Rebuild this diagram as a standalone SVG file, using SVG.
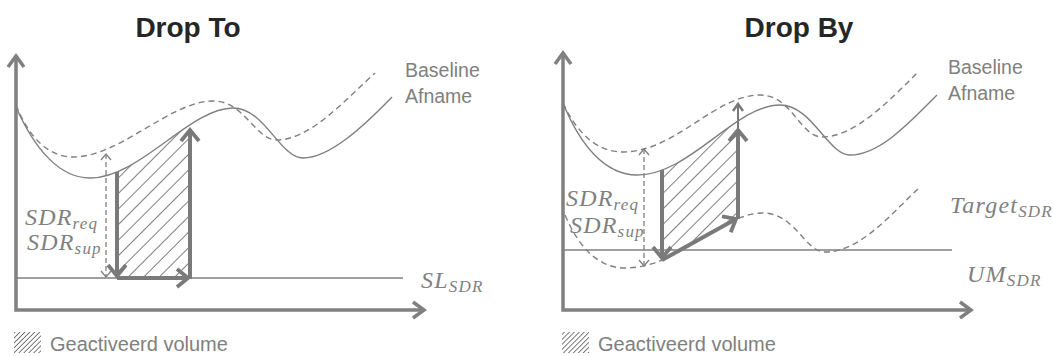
<svg xmlns="http://www.w3.org/2000/svg" width="1053" height="356" viewBox="0 0 1053 356">
<style>
.title{font-family:"Liberation Sans",Arial,sans-serif;font-weight:bold;font-size:28px;fill:#262626}
.lbl{font-family:"Liberation Sans",Arial,sans-serif;font-size:19.5px;fill:#808080}
.m{font-family:"Liberation Serif","Times New Roman",serif;font-style:italic;font-size:24px;fill:#808080;letter-spacing:1.2px}
.sub{font-size:17px}
.axis{fill:none;stroke:#808080;stroke-width:3.5;marker-start:url(#ax);marker-end:url(#ax)}
.curve{fill:none;stroke:#7f7f7f;stroke-width:1.4}
.dash{fill:none;stroke:#7f7f7f;stroke-width:1.4;stroke-dasharray:6 4}
.ref{fill:none;stroke:#7f7f7f;stroke-width:1.4}
.thick{fill:none;stroke:#7a7a7a;stroke-width:4;marker-end:url(#ah)}
.thin{fill:none;stroke:#7a7a7a;stroke-width:2;marker-end:url(#ahs)}
.dbl{fill:none;stroke:#808080;stroke-width:1.3;stroke-dasharray:5 3;marker-start:url(#ad);marker-end:url(#ad)}
</style>
<defs>
<marker id="ax" markerUnits="userSpaceOnUse" viewBox="-15 -15 30 30" markerWidth="30" markerHeight="30" refX="0" refY="0" orient="auto-start-reverse">
<path d="M-11,-8 L0,0 L-11,8" fill="none" stroke="#808080" stroke-width="3.5"/>
</marker>
<marker id="ah" markerUnits="userSpaceOnUse" viewBox="-15 -15 30 30" markerWidth="30" markerHeight="30" refX="0" refY="0" orient="auto">
<path d="M-11,-9 L0,0 L-11,9" fill="none" stroke="#7a7a7a" stroke-width="3.8"/>
</marker>
<marker id="ahs" markerUnits="userSpaceOnUse" viewBox="-15 -15 30 30" markerWidth="30" markerHeight="30" refX="0" refY="0" orient="auto">
<path d="M-7,-5 L0,0 L-7,5" fill="none" stroke="#7a7a7a" stroke-width="2.5"/>
</marker>
<marker id="ad" markerUnits="userSpaceOnUse" viewBox="-10 -10 20 20" markerWidth="20" markerHeight="20" refX="0" refY="0" orient="auto-start-reverse">
<path d="M-6,-5 L0,0 L-6,5" fill="none" stroke="#808080" stroke-width="1.3"/>
</marker>
<pattern id="hatch" width="11" height="11" patternUnits="userSpaceOnUse" patternTransform="rotate(45)">
<line x1="0" y1="0" x2="0" y2="11" stroke="#555" stroke-width="1.5"/>
</pattern>
<pattern id="hatchS" width="3.5" height="3.5" patternUnits="userSpaceOnUse" patternTransform="rotate(45)">
<line x1="0" y1="0" x2="0" y2="3.5" stroke="#666" stroke-width="1.7"/>
</pattern>
<clipPath id="underL">
<path d="M16,107 C35,150 60,178 90,178 C140,178 190,108 233,108 C265,108 280,158 303,158 C330,158 365,125 392,97 L392,400 L16,400 Z"/>
</clipPath>
<clipPath id="underR">
<path d="M563,103 C580,145 605,175 637,175 C690,175 735,105 780,105 C812,105 828,155 850,155 C880,155 910,122 937,95 L937,400 L563,400 Z"/>
</clipPath>
</defs>

<g id="panel-drop-to">
<text class="title" x="188" y="37" text-anchor="middle">Drop To</text>
<rect x="117" y="90" width="73" height="188" fill="url(#hatch)" clip-path="url(#underL)"/>
<path class="curve" d="M16,107 C35,150 60,178 90,178 C140,178 190,108 233,108 C265,108 280,158 303,158 C330,158 365,125 392,97"/>
<path class="dash" d="M16,105 C30,140 50,157 73,157 C120,157 170,101 213,101 C245,101 255,140 277,140 C310,140 345,100 375,73"/>
<line class="ref" x1="16" y1="278" x2="403" y2="278"/>
<path class="axis" d="M16,56 L16,310 L424,310"/>
<text class="lbl" x="405" y="77">Baseline</text>
<text class="lbl" x="405" y="103">Afname</text>
<text class="m" x="421" y="288">SL<tspan class="sub" dy="4">SDR</tspan></text>
<text class="m" x="25" y="225">SDR<tspan class="sub" dy="4">req</tspan></text>
<text class="m" x="27" y="250">SDR<tspan class="sub" dy="4">sup</tspan></text>
<g id="legend-left">
<rect x="14" y="332" width="27" height="21" fill="url(#hatchS)"/>
<text class="lbl" x="50" y="351" style="font-size:20px">Geactiveerd volume</text>
</g>
</g>

<g id="panel-drop-by">
<text class="title" x="799" y="37" text-anchor="middle">Drop By</text>
<path d="M662,260 L738,218 L738,90 L662,90 Z" fill="url(#hatch)" clip-path="url(#underR)"/>
<path class="curve" d="M563,103 C580,145 605,175 637,175 C690,175 735,105 780,105 C812,105 828,155 850,155 C880,155 910,122 937,95"/>
<path class="dash" d="M563,103 C578,135 598,152 623,152 C675,152 715,95 760,95 C792,95 800,137 822,137 C855,137 890,100 918,72"/>
<path class="dash" d="M565,215 C580,250 600,268 625,268 C680,268 720,213 763,213 C795,213 805,252 825,252 C860,252 890,215 920,187"/>
<line class="ref" x1="563" y1="250" x2="952" y2="250"/>
<path class="axis" d="M563,53 L563,310 L971,310"/>
<text class="lbl" x="948" y="74">Baseline</text>
<text class="lbl" x="948" y="100">Afname</text>
<text class="m" x="950" y="213">Target<tspan class="sub" dy="4">SDR</tspan></text>
<text class="m" x="967" y="282">UM<tspan class="sub" dy="4">SDR</tspan></text>
<text class="m" x="566" y="206">SDR<tspan class="sub" dy="4">req</tspan></text>
<text class="m" x="570" y="233">SDR<tspan class="sub" dy="4">sup</tspan></text>
<g id="legend-right">
<rect x="562" y="332" width="27" height="21" fill="url(#hatchS)"/>
<text class="lbl" x="598" y="351" style="font-size:20px">Geactiveerd volume</text>
</g>
</g>

<g id="connectors">
<line class="dbl" x1="106" y1="154" x2="106" y2="277"/>
<line class="thick" x1="117" y1="172" x2="117" y2="276"/>
<line class="thick" x1="117" y1="278" x2="188" y2="278"/>
<line class="thick" x1="190" y1="279" x2="190" y2="130"/>
<line class="dbl" x1="644" y1="149" x2="644" y2="266"/>
<line class="thin" x1="738" y1="130" x2="738" y2="104"/>
<line class="thick" x1="662" y1="170" x2="662" y2="258"/>
<line class="thick" x1="662" y1="260" x2="736" y2="219"/>
<line class="thick" x1="738" y1="219" x2="738" y2="130"/>
</g>
</svg>
